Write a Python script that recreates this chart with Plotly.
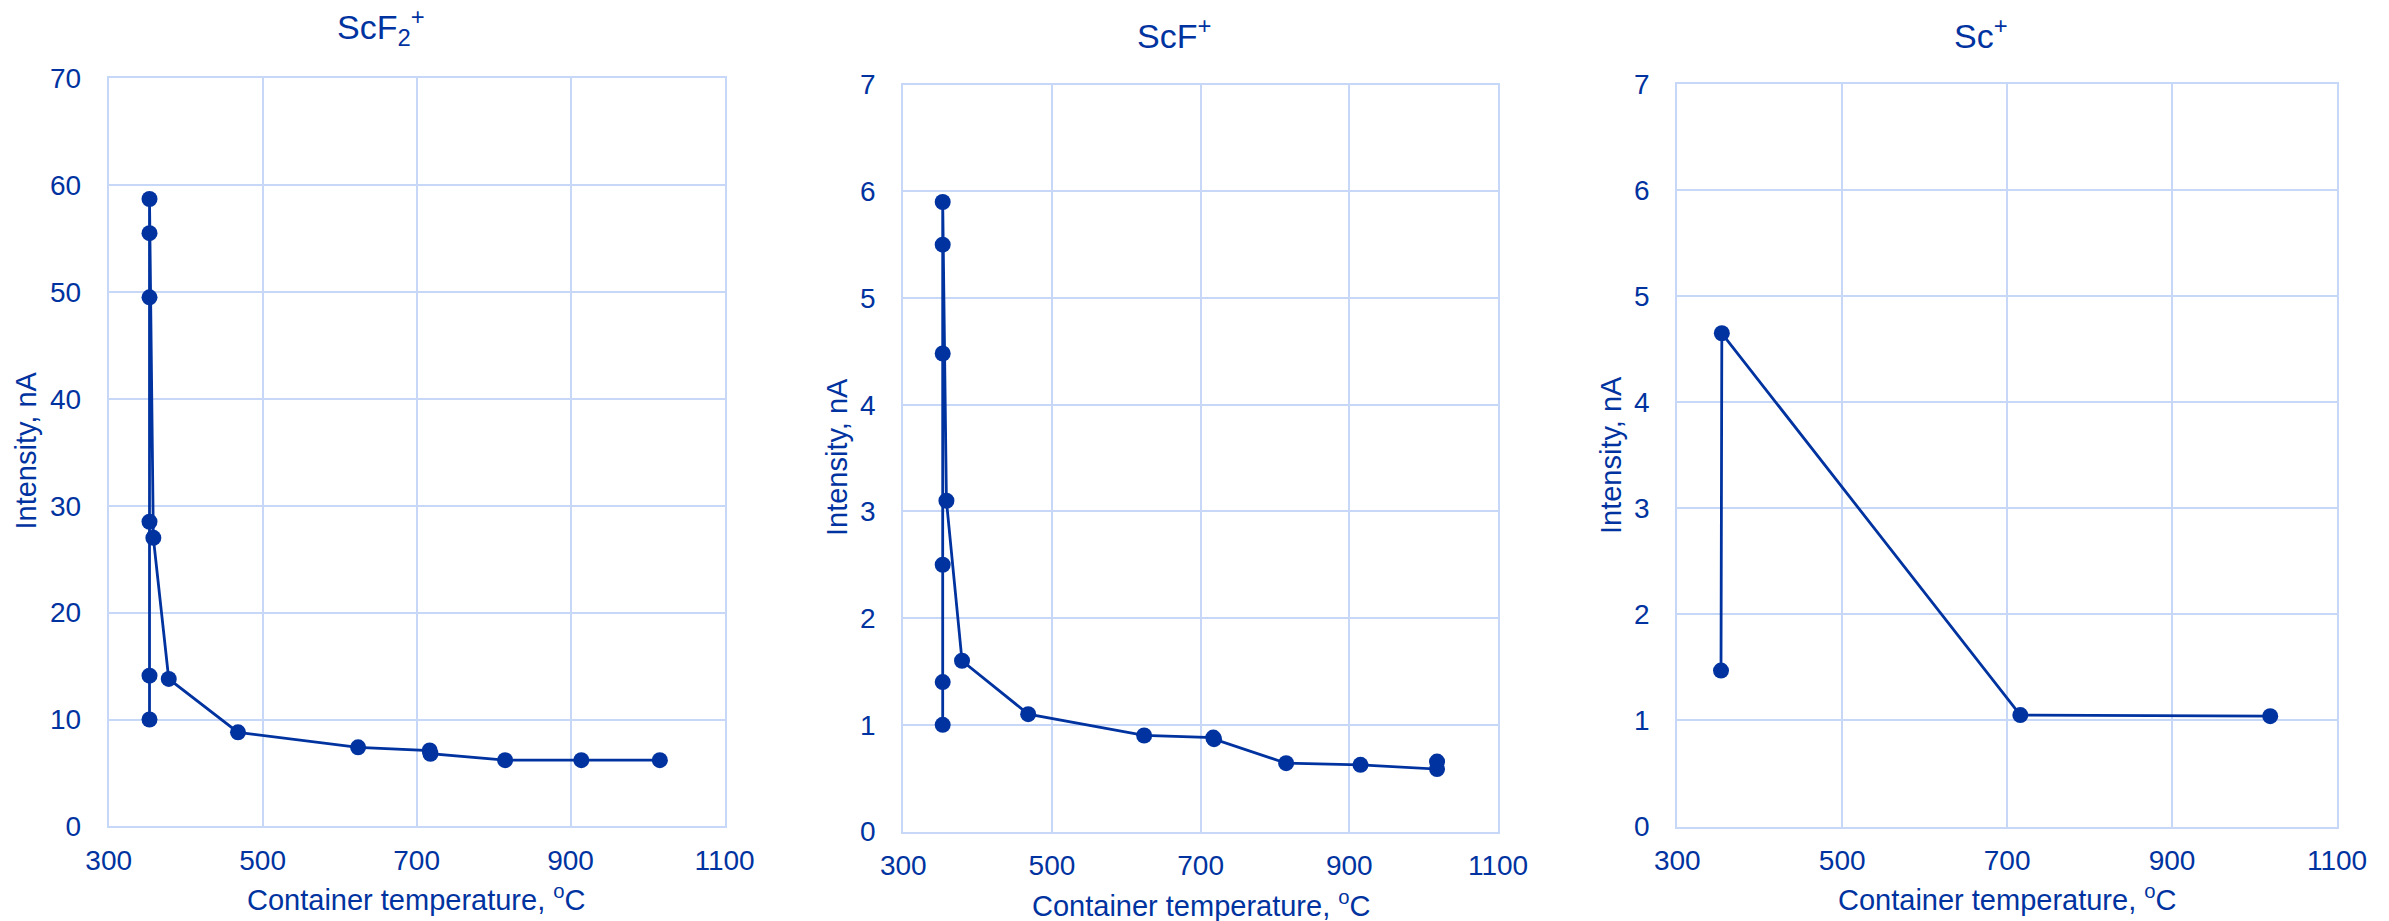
import plotly.graph_objects as go

# Ion currents versus container temperature
temp_scf2 = [353, 353, 353, 353, 353, 353, 358, 378, 468, 624, 717, 718, 815, 914, 1016]
int_scf2 = [10.0, 14.1, 28.5, 49.5, 55.5, 58.7, 27.0, 13.8, 8.8, 7.4, 7.1, 6.8, 6.2, 6.2, 6.2]

temp_scf = [353, 353, 353, 353, 353, 353, 358, 379, 468, 624, 717, 718, 815, 915, 1018, 1018]
int_scf = [1.0, 1.4, 2.5, 4.48, 5.5, 5.9, 3.1, 1.6, 1.1, 0.9, 0.88, 0.865, 0.64, 0.625, 0.585, 0.655]

temp_sc = [353, 354, 716, 1019]
int_sc = [1.47, 4.65, 1.05, 1.04]

panel_titles = ["ScF<sub>2</sub><sup>+</sup>", "ScF<sup>+</sup>", "Sc<sup>+</sup>"]
x_title = "Container temperature, <sup>o</sup>C"
y_title = "Intensity, nA"
x_range = [300, 1100]
y_ranges = [[0, 70], [0, 7], [0, 7]]
y_steps = [10, 1, 1]

W, H = 2389, 921
BLUE = "#0033a0"
GRID = "#c6d7f7"
FONT = "Liberation Sans, Arial, sans-serif"

# plot-area boxes in pixels: left, right, top, bottom
boxes = [
    (108.7, 724.5, 78.2, 826.4),
    (903.3, 1498.0, 84.6, 831.5),
    (1677.3, 2337.0, 84.0, 826.5),
]
title_pos = [(381, 27), (1174, 33), (1981, 33)]
ytitle_pos = [(25.5, 451), (837, 457), (1611, 455)]
xtitle_pos = [(416.6, 898), (1201, 904), (2007, 898)]

series = [(temp_scf2, int_scf2), (temp_scf, int_scf), (temp_sc, int_sc)]

fig = go.Figure()
layout = dict(
    width=W, height=H,
    margin=dict(l=0, r=0, t=0, b=0, autoexpand=False),
    paper_bgcolor="white", plot_bgcolor="white",
    showlegend=False,
    font=dict(family=FONT, color=BLUE, size=28),
)
annotations = []

for i, ((tx, iy), box) in enumerate(zip(series, boxes)):
    n = "" if i == 0 else str(i + 1)
    l, r, t, b = box
    fig.add_trace(go.Scatter(
        x=tx, y=iy, mode="lines+markers",
        line=dict(color=BLUE, width=2.8),
        marker=dict(color=BLUE, size=16),
        xaxis="x" + n, yaxis="y" + n,
    ))
    common = dict(
        showgrid=True, gridcolor=GRID, gridwidth=2,
        showline=True, mirror=True, linecolor=GRID, linewidth=2,
        zeroline=False, ticks="", automargin=False,
        tickfont=dict(family=FONT, color=BLUE, size=28),
    )
    layout["xaxis" + n] = dict(
        domain=[l / W, r / W], anchor="y" + n,
        range=x_range, tick0=300, dtick=200,
        ticklabelstandoff=8, **common,
    )
    layout["yaxis" + n] = dict(
        domain=[1 - b / H, 1 - t / H], anchor="x" + n,
        range=y_ranges[i], dtick=y_steps[i],
        ticklabelstandoff=20, **common,
    )
    px, py = title_pos[i]
    annotations.append(dict(
        text=panel_titles[i], x=px / W, y=1 - py / H, xref="paper", yref="paper",
        xanchor="center", yanchor="middle", showarrow=False,
        font=dict(family=FONT, color=BLUE, size=34),
    ))
    px, py = ytitle_pos[i]
    annotations.append(dict(
        text=y_title, x=px / W, y=1 - py / H, xref="paper", yref="paper",
        xanchor="center", yanchor="middle", showarrow=False, textangle=-90,
        font=dict(family=FONT, color=BLUE, size=29),
    ))
    px, py = xtitle_pos[i]
    annotations.append(dict(
        text=x_title, x=px / W, y=1 - py / H, xref="paper", yref="paper",
        xanchor="center", yanchor="middle", showarrow=False,
        font=dict(family=FONT, color=BLUE, size=29),
    ))

layout["annotations"] = annotations
fig.update_layout(**layout)
fig.write_html("out.html")
